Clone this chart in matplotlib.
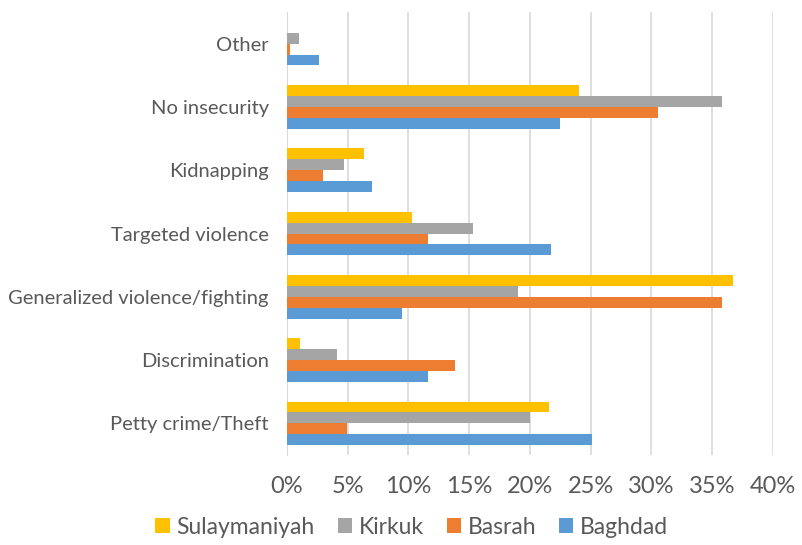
import numpy as np
import matplotlib
matplotlib.use("Agg")
import matplotlib.pyplot as plt
from matplotlib.ticker import FuncFormatter

categories = ["Petty crime/Theft", "Discrimination", "Generalized violence/fighting",
              "Targeted violence", "Kidnapping", "No insecurity", "Other"]

# values in percent, same order as categories
baghdad = [25.1, 11.6, 9.5, 21.7, 7.0, 22.5, 2.6]
basrah = [4.9, 13.8, 35.8, 11.6, 3.0, 30.5, 0.25]
kirkuk = [20.0, 4.1, 19.0, 15.3, 4.7, 35.8, 1.0]
sulaymaniyah = [21.6, 1.1, 36.7, 10.3, 6.3, 24.0, 0.0]

series = [("Baghdad", baghdad, "#5B9BD5"),
          ("Basrah", basrah, "#ED7D31"),
          ("Kirkuk", kirkuk, "#A5A5A5"),
          ("Sulaymaniyah", sulaymaniyah, "#FFC000")]

plt.rcParams['font.family'] = ['Lato', 'DejaVu Sans']
text_color = '#595959'

fig = plt.figure(figsize=(8.03, 5.45), dpi=100)
ax = fig.add_axes([287 / 803, 1 - 455 / 545, (773 - 287) / 803, (455 - 12) / 545])

y = np.arange(len(categories))
h = 0.172
for i, (name, vals, col) in enumerate(series):
    offs = (i - 1.5) * h
    ax.barh(y + offs, vals, height=h, color=col, label=name, zorder=3)

ax.set_xlim(0, 40)
ax.set_ylim(-0.5, len(categories) - 0.5)
ax.set_xticks(np.arange(0, 41, 5))
ax.xaxis.set_major_formatter(FuncFormatter(lambda v, p: f"{v:.0f}%"))
ax.set_yticks(y)
ax.set_yticklabels(categories)
ax.grid(axis='x', color='#D9D9D9', linewidth=1.2, zorder=0)
for s in ['top', 'right', 'bottom']:
    ax.spines[s].set_visible(False)
ax.spines['left'].set_color('#D9D9D9')
ax.tick_params(axis='y', length=0, colors=text_color, labelsize=14.5, pad=13)
ax.tick_params(axis='x', length=0, colors=text_color, labelsize=17, pad=15)

handles, labels = ax.get_legend_handles_labels()
fig.legend(handles[::-1], labels[::-1], loc='center', bbox_to_anchor=(0.513, 1 - 527 / 545),
           ncol=4, frameon=False, fontsize=16.5, handlelength=0.62, handleheight=0.62,
           columnspacing=1.0, handletextpad=0.3, labelcolor=text_color)

fig.savefig("out.png", dpi=100)
plt.close(fig)
